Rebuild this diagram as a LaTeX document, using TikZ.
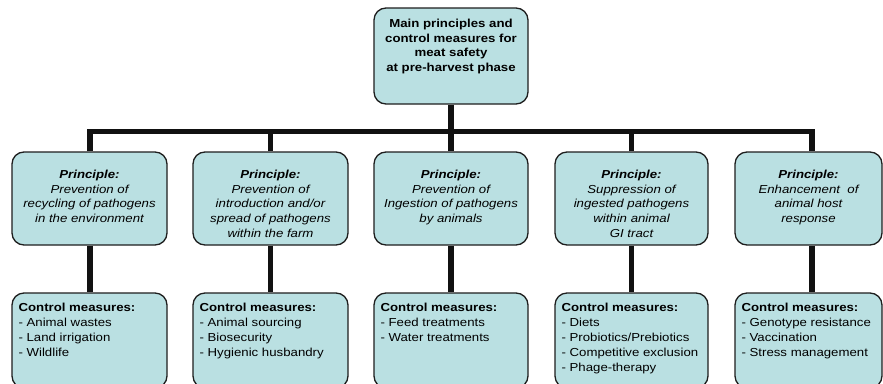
\documentclass[tikz,border=0pt]{standalone}
\usepackage{fontspec}
\setmainfont{Liberation Sans}[FakeStretch=1.14]
\definecolor{boxfill}{RGB}{186,224,226}
\definecolor{boxline}{RGB}{30,30,30}
\definecolor{barline}{RGB}{17,17,17}
\tikzset{
  roundbox/.style={draw=boxline, line width=1.3pt, fill=boxfill, rounded corners=12pt, inner sep=0pt, minimum height=93pt},
  headtext/.style={anchor=north, inner sep=0pt, align=center, font=\fontsize{11.6}{14.5}\selectfont\bfseries},
  princtext/.style={anchor=north, inner sep=0pt, align=center, font=\fontsize{11.6}{14.6}\selectfont\itshape},
  ctrltext/.style={anchor=north west, inner sep=0pt, align=left, font=\fontsize{11.6}{15}\selectfont},
  bar/.style={draw=barline, line width=5.5pt, line join=miter}
}
\begin{document}
\begin{tikzpicture}[x=1pt,y=-1pt]
\clip (0,0) rectangle (883,383);
\fill[white] (0,0) rectangle (883,383);
% nodes
\node[roundbox, minimum width=154pt, minimum height=96pt] (top) at (451,56) {};
\node[roundbox, minimum width=155pt] (p1) at (89.5,198.5) {};
\node[roundbox, minimum width=155pt] (p2) at (270.5,198.5) {};
\node[roundbox, minimum width=154pt] (p3) at (451,198.5) {};
\node[roundbox, minimum width=153pt] (p4) at (631.5,198.5) {};
\node[roundbox, minimum width=147pt] (p5) at (808.5,198.5) {};
\node[roundbox, minimum width=155pt, minimum height=95pt] (c1) at (89.5,340.5) {};
\node[roundbox, minimum width=155pt, minimum height=95pt] (c2) at (270.5,340.5) {};
\node[roundbox, minimum width=154pt, minimum height=95pt] (c3) at (451,340.5) {};
\node[roundbox, minimum width=153pt, minimum height=95pt] (c4) at (631.5,340.5) {};
\node[roundbox, minimum width=147pt, minimum height=95pt] (c5) at (808.5,340.5) {};
% connectors
\coordinate (barc) at (451,131.5);
\draw[bar] (top.south) -- (top.south |- barc);
\draw[bar] ([xshift=0.5pt]p1.north) -- ([xshift=0.5pt]p1.north |- barc) -- ([xshift=3.5pt]p5.north |- barc) -- ([xshift=3.5pt]p5.north);
\draw[bar] (p2.north) -- (p2.north |- barc);
\draw[bar] (p3.north) -- (p3.north |- barc);
\draw[bar] (p4.north) -- (p4.north |- barc);
\draw[bar] ([xshift=0.5pt]p1.south) -- ([xshift=0.5pt]c1.north);
\draw[bar] (p2.south) -- (c2.north);
\draw[bar] (p3.south) -- (c3.north);
\draw[bar] (p4.south) -- (c4.north);
\draw[bar] ([xshift=3.5pt]p5.south) -- ([xshift=3.5pt]c5.north);
% texts
\node[headtext] (toptext) at (451,19) {Main principles and\\control measures for\\meat safety\\at pre-harvest phase};
\node[princtext] (p1t) at (89.5,170) {\textbf{Principle:}\\Prevention of\\recycling of pathogens\\in the environment};
\node[princtext] (p2t) at (270.5,170) {\textbf{Principle:}\\Prevention of\\introduction and/or\\spread of pathogens\\within the farm};
\node[princtext] (p3t) at (451,170) {\textbf{Principle:}\\Prevention of\\Ingestion of pathogens\\by animals};
\node[princtext] (p4t) at (631.5,170) {\textbf{Principle:}\\Suppression of\\ingested pathogens\\within animal\\GI tract};
\node[princtext] (p5t) at (808.5,170) {\textbf{Principle:}\\Enhancement~ of\\animal host\\response};
\node[ctrltext] (c1t) at ([xshift=7pt]c1.west |- 0,302.5) {\textbf{Control measures:}\\- Animal wastes\\- Land irrigation\\- Wildlife};
\node[ctrltext] (c2t) at ([xshift=7pt]c2.west |- 0,302.5) {\textbf{Control measures:}\\- Animal sourcing\\- Biosecurity\\- Hygienic husbandry};
\node[ctrltext] (c3t) at ([xshift=7pt]c3.west |- 0,302.5) {\textbf{Control measures:}\\- Feed treatments\\- Water treatments};
\node[ctrltext] (c4t) at ([xshift=7pt]c4.west |- 0,302.5) {\textbf{Control measures:}\\- Diets\\- Probiotics/Prebiotics\\- Competitive exclusion\\- Phage-therapy};
\node[ctrltext] (c5t) at ([xshift=7pt]c5.west |- 0,302.5) {\textbf{Control measures:}\\- Genotype resistance\\- Vaccination\\- Stress management};
\end{tikzpicture}
\end{document}
